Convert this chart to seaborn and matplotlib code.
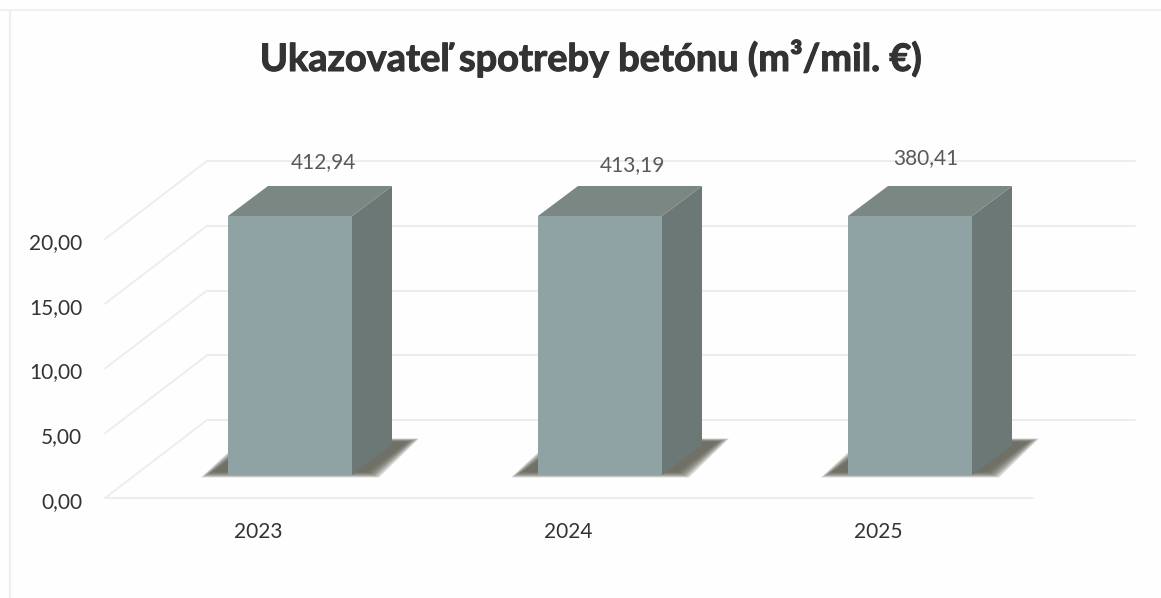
import matplotlib
matplotlib.use("Agg")
import matplotlib.pyplot as plt
import matplotlib.patheffects as pe
from matplotlib.patches import Polygon
from matplotlib.transforms import Affine2D, IdentityTransform
import seaborn as sns

years = ["2023", "2024", "2025"]
values = [412.94, 413.19, 380.41]
y_ticks = [0, 5, 10, 15, 20]
y_tick_labels = ["0,00", "5,00", "10,00", "15,00", "20,00"]
title_text = "Ukazovateľ spotreby betónu (m³/mil. €)"

# pixel offsets of the fake 3D look
BACK_WALL = (72, 55)
FLOOR_FRONT = (-30, -23)
BAR_DEPTH = (40, 30)
LABEL_NUDGE = [(33, 54), (32, 51), (16, 58)]

sns.set_theme(style="white")
plt.rcParams["font.family"] = ["Lato", "DejaVu Sans"]

W, H = 1161, 598
fig = plt.figure(figsize=(W / 100, H / 100), dpi=100, facecolor="#fefefe")
ax = fig.add_axes([135 / W, (H - 475) / H, 928 / W, 259 / H])
ax.patch.set_alpha(0)

sns.barplot(x=years, y=values, color="#8fa3a5", saturation=1, width=0.4, linewidth=0, ax=ax)
# the source axis stops at 20, so the tall bars get cut there
ax.set_xlim(-0.5, 2.4935)
ax.set_ylim(0, 20)
ax.set_xlabel("")
ax.set_ylabel("")
sns.despine(ax=ax, left=True, bottom=True)
ax.tick_params(length=0)


def px(x, y, off=(0, 0)):
    p = ax.transData.transform((x, y))
    return p[0] + off[0], p[1] + off[1]


def line(p0, p1, zorder=0.5):
    ax.plot([p0[0], p1[0]], [p0[1], p1[1]], color="#ededeb", lw=1.4,
            transform=IdentityTransform(), clip_on=False, zorder=zorder,
            scalex=False, scaley=False)


x0, x1 = ax.get_xlim()
for v in y_ticks:
    back_left = px(x0, v, BACK_WALL)
    line(px(x0, v, FLOOR_FRONT), back_left)
    line(back_left, px(x1, v, BACK_WALL))
line(px(x0, 0, FLOOR_FRONT), px(x1, 0, FLOOR_FRONT))

for i, bar in enumerate(list(ax.patches)):
    left = bar.get_x()
    right = left + bar.get_width()
    top = min(bar.get_height(), ax.get_ylim()[1])
    fl, ft = px(left, top)
    fr, fb = px(right, 0)
    dx, dy = BAR_DEPTH

    side = [(fr, fb), (fr, ft), (fr + dx, ft + dy), (fr + dx, fb + dy)]
    roof = [(fl, ft), (fr, ft), (fr + dx, ft + dy), (fl + dx, ft + dy)]
    ax.add_patch(Polygon(side, fc="#6c7876", ec="none", transform=IdentityTransform(),
                         clip_on=False, zorder=1.1))
    ax.add_patch(Polygon(roof, fc="#7b8783", ec="none", transform=IdentityTransform(),
                         clip_on=False, zorder=1.1))

    # soft floor shadow, a few stacked see-through layers
    for grow in [5, 3.5, 2, 0.5, -1, -2.5, -4, -6]:
        shadow = [(fl - 22 - grow, fb - grow * 0.5), (fr + 22 + grow, fb - grow * 0.5),
                  (fr + 62 + grow, fb + 35 + grow * 0.3), (fl + 20 - grow, fb + 35 + grow * 0.3)]
        ax.add_patch(Polygon(shadow, fc="#55554a", ec="none", alpha=0.2,
                             transform=IdentityTransform(), clip_on=False, zorder=0.7))

    text = f"{values[i]:.2f}".replace(".", ",")
    ax.annotate(text, xy=(left + bar.get_width() / 2, top), xytext=LABEL_NUDGE[i],
                textcoords="offset pixels", ha="center", va="center",
                fontsize=15, color="#595959", annotation_clip=False)

ax.set_yticks(y_ticks)
ax.set_yticklabels(y_tick_labels, fontsize=15, color="#333333")
ax.tick_params(axis="y", pad=38)
ax.tick_params(axis="x", pad=34)
for lab in ax.get_yticklabels():
    lab.set_transform(lab.get_transform() + Affine2D().translate(0, -25))
for lab in ax.get_xticklabels():
    lab.set_fontsize(15)
    lab.set_color("#333333")
    lab.set_transform(lab.get_transform() + Affine2D().translate(-32, 0))

fig.text(590 / W, 1 - 58 / H, title_text, ha="center", va="center",
         fontsize=27.3, fontweight="bold", color="#333333",
         path_effects=[pe.withStroke(linewidth=0.8, foreground="#333333")])

# scan edges of the page
fig.add_artist(plt.Line2D([0, 1], [1 - 10 / H, 1 - 10 / H], color="#efefef", lw=1.2))
fig.add_artist(plt.Line2D([10 / W, 10 / W], [0, 1 - 10 / H], color="#efefef", lw=1.6))

fig.savefig("out.png", dpi=100, facecolor=fig.get_facecolor())
